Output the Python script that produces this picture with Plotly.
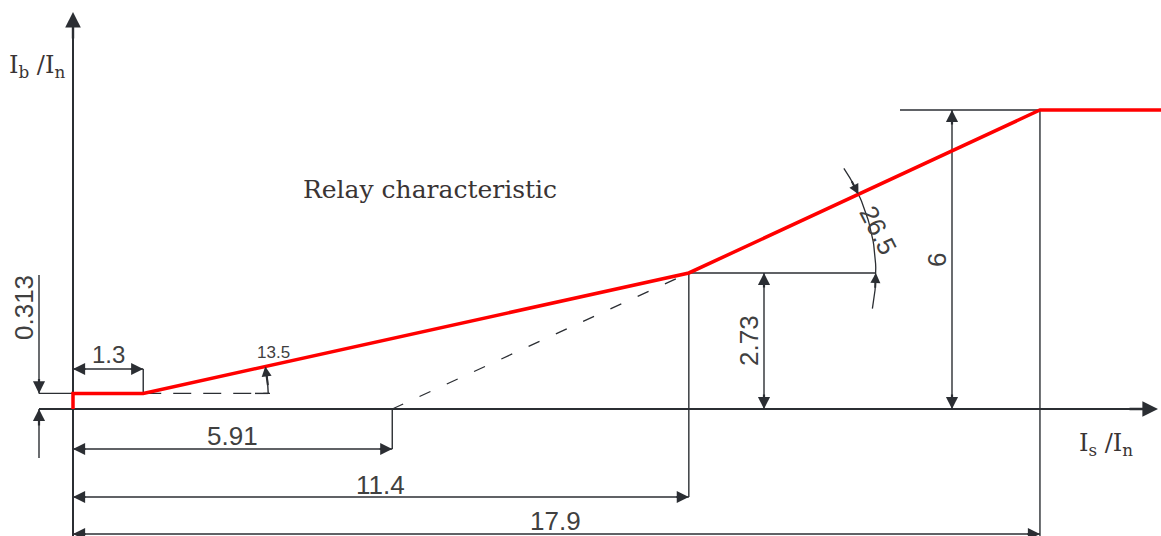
import numpy as np
import plotly.graph_objects as go

# ---------------- data ----------------
char_x = [0, 0, 1.3, 11.4, 17.9, 20.3]          # Is/In of the relay characteristic
char_y = [0, 0.313, 0.313, 2.73, 6.0, 6.0]       # Ib/In of the relay characteristic
ext_x = [5.91, 11.4]                              # dashed extension of 2nd slope
ext_y = [0.0, 2.73]
dim_x_values = [1.3, 5.91, 11.4, 17.9]
dim_x_labels = ["1.3", "5.91", "11.4", "17.9"]
dim_y_values = [0.313, 2.73, 6.0]
dim_y_labels = ["0.313", "2.73", "6"]
angle_labels = ["13.5", "26.5"]

# ---------------- geometry helpers (pixel <-> data) ----------------
W, H = 1161, 536
PX0, PY0 = 73.0, 409.0       # pixel position of the origin
SX, SY = 54.02, 49.83        # pixels per unit
def dx(px): return (px - PX0) / SX
def dy(py): return (PY0 - py) / SY
DARK = "#2b2e33"
TXT = "#404040"
RED = "#ff0000"

fig = go.Figure()
ann = []

def line(xs, ys, color=DARK, width=1.4, dash=None):
    fig.add_trace(go.Scatter(x=xs, y=ys, mode="lines",
                             line=dict(color=color, width=width, dash=dash),
                             hoverinfo="skip", showlegend=False))

def arrow(tx, ty, ax_, ay_, w=2.2, s=1.1):
    ann.append(dict(x=tx, y=ty, ax=ax_, ay=ay_, xref="x", yref="y", axref="x", ayref="y",
                    showarrow=True, arrowhead=2, arrowsize=s, arrowwidth=w,
                    arrowcolor=DARK, text="", standoff=0, startstandoff=0))

def text(px, py, t, size=26, angle=0, family="Liberation Sans, Arial, sans-serif", color=TXT):
    ann.append(dict(x=dx(px), y=dy(py), xref="x", yref="y", text=t, showarrow=False,
                    textangle=angle, font=dict(size=size, family=family, color=color),
                    xanchor="center", yanchor="middle"))

# ---------------- axes ----------------
line([0, 0], [dy(540), dy(30)], width=2)                       # y axis
line([dx(39), dx(1135)], [0, 0], width=2)                     # x axis
arrow(0, dy(12), 0, dy(40), w=2.4, s=1.3)
arrow(dx(1158), 0, dx(1128), 0, w=2.4, s=1.3)

# ---------------- dimension: 0.313 ----------------
y313 = dim_y_values[0]
xd = dx(39)
line([xd, 0], [y313, y313])
line([xd, xd], [dy(275), y313])
line([xd, xd], [0, dy(458)])
arrow(xd, y313, xd, y313 + 16 / SY)
arrow(xd, 0, xd, -18 / SY)
text(24, 308, dim_y_labels[0], angle=-90)

# ---------------- dimension: 1.3 ----------------
yd = dy(369)
line([0, dim_x_values[0]], [yd, yd])
line([dim_x_values[0], dim_x_values[0]], [yd, char_y[2]])
arrow(0, yd, 14 / SX, yd)
arrow(dim_x_values[0], yd, dim_x_values[0] - 14 / SX, yd)
text(108, 354, dim_x_labels[0], size=24)

# ---------------- dashed lines ----------------
line([char_x[2], dx(270)], [char_y[2], char_y[2]], width=1.3, dash="18px,12px")
line(ext_x, ext_y, width=1.3, dash="12px,18px")

# ---------------- angle 13.5 ----------------
cx1, cy1 = char_x[2], char_y[2]
th1 = np.arctan2((char_y[3] - cy1) * SY, (char_x[3] - cx1) * SX)
R1 = 125.0
t = np.linspace(0, th1, 20)
line(list(cx1 + R1 * np.cos(t) / SX), list(cy1 + R1 * np.sin(t) / SY))
line([dx(255), cx1 + R1 / SX], [cy1, cy1])
arrow(cx1 + R1 * np.cos(th1) / SX, cy1 + R1 * np.sin(th1) / SY,
      cx1 + R1 * np.cos(th1 * 0.25) / SX, cy1 + R1 * np.sin(th1 * 0.25) / SY, w=2.0, s=1.0)
text(273, 352, angle_labels[0], size=17)

# ---------------- dimension: 5.91 ----------------
yd = dy(449)
line([0, dim_x_values[1]], [yd, yd])
line([dim_x_values[1], dim_x_values[1]], [0, yd])
arrow(0, yd, 14 / SX, yd)
arrow(dim_x_values[1], yd, dim_x_values[1] - 14 / SX, yd)
text(232, 436, dim_x_labels[1])

# ---------------- dimension: 11.4 ----------------
yd = dy(497)
line([0, dim_x_values[2]], [yd, yd])
line([dim_x_values[2], dim_x_values[2]], [char_y[3], yd])
arrow(0, yd, 14 / SX, yd)
arrow(dim_x_values[2], yd, dim_x_values[2] - 14 / SX, yd)
text(380, 485, dim_x_labels[2])

# ---------------- dimension: 17.9 ----------------
yd = dy(534)
line([0, dim_x_values[3]], [yd, yd])
line([dim_x_values[3], dim_x_values[3]], [char_y[4], dy(540)])
arrow(0, yd, 14 / SX, yd)
arrow(dim_x_values[3], yd, dim_x_values[3] - 14 / SX, yd)
text(555, 521, dim_x_labels[3])

# ---------------- dimension: 2.73 ----------------
xd = dx(764)
line([char_x[3], dx(875)], [char_y[3], char_y[3]])
line([xd, xd], [0, dim_y_values[1]])
arrow(xd, dim_y_values[1], xd, dim_y_values[1] - 16 / SY)
arrow(xd, 0, xd, 16 / SY)
text(749, 341, dim_y_labels[1], angle=-90)

# ---------------- dimension: 6 ----------------
xd = dx(952)
line([dx(900), char_x[4]], [char_y[4], char_y[4]])
line([xd, xd], [0, dim_y_values[2]])
arrow(xd, dim_y_values[2], xd, dim_y_values[2] - 16 / SY)
arrow(xd, 0, xd, 16 / SY)
text(937, 260, dim_y_labels[2], angle=-90)

# ---------------- angle 26.5 ----------------
cx2, cy2 = char_x[3], char_y[3]
th2 = np.arctan2((char_y[4] - cy2) * SY, (char_x[4] - cx2) * SX)
R2 = 187.0
t = np.linspace(np.radians(-11), np.radians(34), 40)
line(list(cx2 + R2 * np.cos(t) / SX), list(cy2 + R2 * np.sin(t) / SY), width=1.3)
d = np.radians(5)
arrow(cx2 + R2 * np.cos(th2) / SX, cy2 + R2 * np.sin(th2) / SY,
      cx2 + R2 * np.cos(th2 + d) / SX, cy2 + R2 * np.sin(th2 + d) / SY, w=2.0, s=1.0)
arrow(cx2 + R2 / SX, cy2,
      cx2 + R2 * np.cos(-d) / SX, cy2 + R2 * np.sin(-d) / SY, w=2.0, s=1.0)
text(878, 230, angle_labels[1], angle=63)

# ---------------- relay characteristic (red) ----------------
line(char_x, char_y, color=RED, width=3.5)

# ---------------- labels ----------------
SERIF = "DejaVu Serif, Liberation Serif, serif"
text(430, 189, "Relay characteristic", size=25, family=SERIF, color="#3a3434")
text(37, 66, "I<sub>b</sub> /I<sub>n</sub>", size=24, family=SERIF, color="#3a3434")
text(1106, 444, "I<sub>s</sub> /I<sub>n</sub>", size=24, family=SERIF, color="#3a3434")

fig.update_layout(
    width=W, height=H, margin=dict(l=0, r=0, t=0, b=0),
    paper_bgcolor="white", plot_bgcolor="white", showlegend=False,
    xaxis=dict(range=[dx(0), dx(W)], visible=False, fixedrange=True),
    yaxis=dict(range=[dy(H), dy(0)], visible=False, fixedrange=True),
    annotations=ann,
)
fig.write_html("out.html", config={"displayModeBar": False},
               post_script="document.body.style.margin='0';document.body.style.overflow='hidden';")
